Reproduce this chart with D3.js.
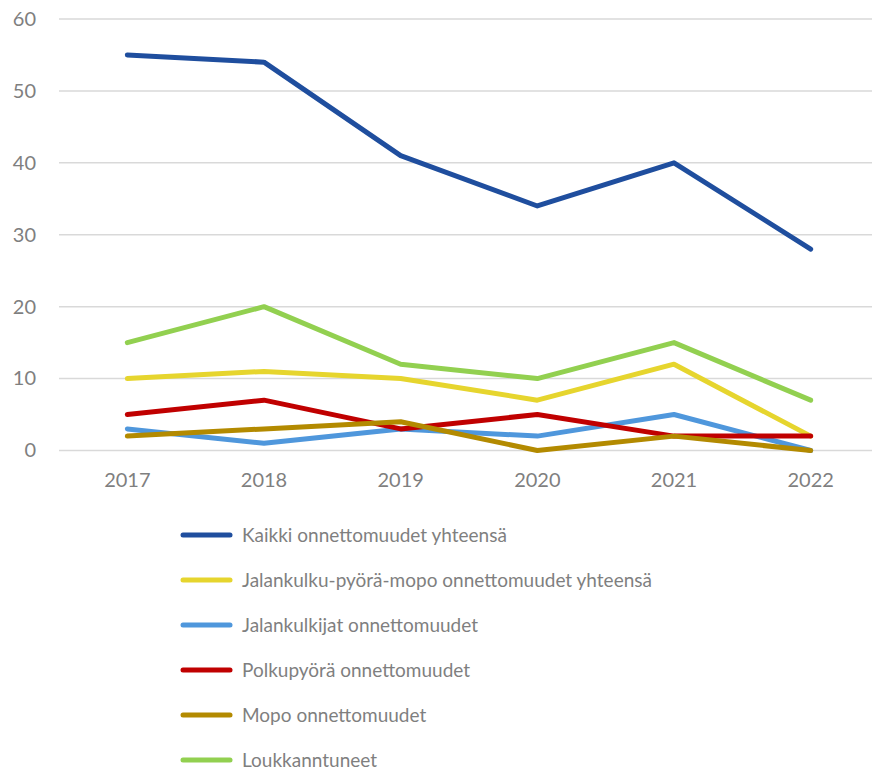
<!DOCTYPE html>
<html><head><meta charset="utf-8">
<script src="https://cdn.jsdelivr.net/npm/d3@7"></script>
<style>body{margin:0;background:#fff}svg{display:block}</style>
</head><body>
<svg id="c" width="872" height="770"></svg>
<script>
const years = ["2017","2018","2019","2020","2021","2022"];
const seriesNames = ["Kaikki onnettomuudet yhteensä","Jalankulku-pyörä-mopo onnettomuudet yhteensä","Jalankulkijat onnettomuudet","Polkupyörä onnettomuudet","Mopo onnettomuudet","Loukkanntuneet"];
const kaikki = [55,54,41,34,40,28];
const jpm = [10,11,10,7,12,2];
const jalankulkijat = [3,1,3,2,5,0];
const polkupyora = [5,7,3,5,2,2];
const mopo = [2,3,4,0,2,0];
const loukkaantuneet = [15,20,12,10,15,7];
const yTicks = [0,10,20,30,40,50,60];
const colors = ["#1f4e9e","#e6d52e","#4f97dc","#c00000","#b38a00","#92d050"];
const seriesValues = [kaikki,jpm,jalankulkijat,polkupyora,mopo,loukkaantuneet];

const svg = d3.select("#c");
const font = "Lato, 'Open Sans', sans-serif";
const x = d3.scaleBand().domain(years).range([59,879]);
const y = d3.scaleLinear().domain([0,60]).range([450.5,19]);

svg.append("g").selectAll("line").data(yTicks).join("line")
  .attr("x1",59).attr("x2",879).attr("y1",d=>y(d)).attr("y2",d=>y(d))
  .attr("stroke","#d9d9d9").attr("stroke-width",1.5);

const ya = svg.append("g").attr("transform","translate(59,0)")
  .call(d3.axisLeft(y).tickValues(yTicks).tickSize(0).tickPadding(23));
ya.select(".domain").remove();
ya.selectAll("text").attr("font-family",font).attr("font-size",20).attr("fill","#7f7f7f");

const xa = svg.append("g").attr("transform","translate(0,450.5)")
  .call(d3.axisBottom(x).tickSize(0).tickPadding(22));
xa.select(".domain").remove();
xa.selectAll("text").attr("font-family",font).attr("font-size",20).attr("fill","#7f7f7f");

const line = d3.line().x((d,i)=>x(years[i])+x.bandwidth()/2).y(d=>y(d));
svg.append("g").selectAll("path").data(seriesValues).join("path")
  .attr("d",line).attr("fill","none")
  .attr("stroke",(d,i)=>colors[i]).attr("stroke-width",5)
  .attr("stroke-linecap","round").attr("stroke-linejoin","round");

const lg = svg.append("g").selectAll("g").data(seriesNames).join("g")
  .attr("transform",(d,i)=>`translate(183,${535+i*45})`);
lg.append("line").attr("x1",0).attr("x2",47).attr("y1",0).attr("y2",0)
  .attr("stroke",(d,i)=>colors[i]).attr("stroke-width",5).attr("stroke-linecap","round");
lg.append("text").attr("x",59).attr("y",0).attr("dy","0.35em")
  .attr("font-family",font).attr("font-size",19).attr("fill","#7f7f7f").text(d=>d);
</script>
</body></html>
